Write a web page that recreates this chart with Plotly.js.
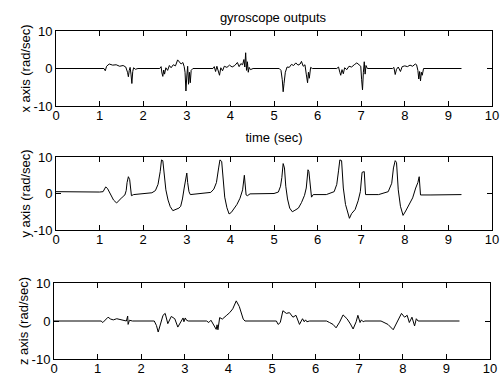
<!DOCTYPE html>
<html>
<head>
<meta charset="utf-8">
<script src="https://cdn.plot.ly/plotly-3.0.1.min.js"></script>
<style>
  html, body { margin: 0; padding: 0; background: #fff; }
  #chart { width: 500px; height: 376px; }
</style>
</head>
<body>
<div id="chart"></div>
<script>
// Angular rate about the x axis (rad/sec) against time (sec)
const xTime = [0, 1.10, 1.13, 1.16, 1.22, 1.30, 1.38, 1.46, 1.54, 1.60, 1.64, 1.66, 1.68, 1.70, 1.72, 1.74, 1.76, 1.78, 1.82, 1.88,
  2.38, 2.41, 2.43, 2.45, 2.47, 2.49, 2.52, 2.56, 2.60, 2.64, 2.69, 2.74, 2.79, 2.83, 2.87, 2.91, 2.94, 2.96, 2.98, 3.00, 3.02, 3.04, 3.06, 3.08, 3.10, 3.14,
  3.60, 3.63, 3.66, 3.69, 3.72, 3.75, 3.78, 3.82, 3.86, 3.92, 3.98, 4.04, 4.10, 4.16, 4.20, 4.24, 4.28, 4.31, 4.33, 4.35, 4.37, 4.39, 4.41, 4.43, 4.46, 4.52,
  5.12, 5.16, 5.19, 5.21, 5.23, 5.26, 5.30, 5.35, 5.40, 5.45, 5.50, 5.55, 5.60, 5.63, 5.67, 5.71, 5.74, 5.77, 5.79, 5.81, 5.84, 5.88,
  6.44, 6.48, 6.51, 6.53, 6.56, 6.59, 6.62, 6.67, 6.72, 6.78, 6.84, 6.90, 6.95, 6.99, 7.01, 7.03, 7.05, 7.07, 7.09, 7.11, 7.14,
  7.72, 7.75, 7.78, 7.81, 7.85, 7.90, 7.94, 8.00, 8.06, 8.12, 8.18, 8.24, 8.27, 8.30, 8.32, 8.34, 8.36, 8.38, 8.40, 8.43, 9.30];
const xRate = [0, 0, -0.6, 0.6, 1.2, 0.9, 1.0, 0.6, 0.8, 0.4, -1.0, -2.2, -0.5, 0.3, -1.5, -4.0, -0.8, 0.2, -0.2, 0,
  0, 0.5, -1.2, -2.1, -0.4, -1.5, 0.2, -0.5, 0.8, 0.2, 1.0, 0.7, 2.3, 1.8, 1.2, 1.6, 0.5, -1.0, -6.0, -2.0, 0.6, -4.2, -1.0, -3.8, -0.5, 0,
  0, 0.5, -0.8, 0.6, -0.4, -1.8, 0.2, -0.6, 0.6, 0.3, 0.9, 0.4, 0.8, 1.6, 0.5, 1.3, 1.0, 2.4, 0.4, 4.2, -0.5, 1.8, -1.0, 0.3, -0.3, 0,
  0, -0.5, -3.0, -6.2, -4.0, -1.0, 0.4, 0.3, 1.1, 0.8, 1.5, 0.9, 1.2, 1.9, 0.6, 1.0, -1.5, -3.8, -1.0, -2.6, 0.3, 0,
  0, 0.4, -1.0, -1.8, -0.3, -1.4, 0.2, -0.3, 0.6, 0.4, 1.0, 1.5, 1.0, 0.6, -3.0, -5.7, -1.0, 1.8, -1.5, 0.8, 0,
  0, 0.3, -1.6, -0.2, 0.4, -0.8, 0.5, 0.7, 0.5, 0.9, 0.6, 1.2, 1.0, -0.5, -2.8, -0.8, -3.3, -1.0, -1.8, 0, 0];

// Angular rate about the y axis (rad/sec)
const yTime = [0, 0.5, 1.0, 1.08, 1.14, 1.18, 1.25, 1.32, 1.39, 1.45, 1.52, 1.58, 1.61, 1.63, 1.66, 1.69, 1.71, 1.73, 1.78, 2.0,
  2.20, 2.28, 2.34, 2.39, 2.42, 2.45, 2.48, 2.52, 2.57, 2.62, 2.68, 2.75, 2.82, 2.86, 2.90, 2.94, 2.98, 3.00, 3.02, 3.05, 3.08, 3.30,
  3.55, 3.62, 3.68, 3.73, 3.76, 3.80, 3.83, 3.87, 3.92, 3.97, 4.02, 4.08, 4.15, 4.22, 4.28, 4.32, 4.34, 4.36, 4.39, 4.45,
  5.0, 5.10, 5.15, 5.18, 5.21, 5.24, 5.27, 5.31, 5.36, 5.42, 5.48, 5.56, 5.63, 5.70, 5.74, 5.78, 5.80, 5.83, 5.86, 5.90,
  6.20, 6.38, 6.44, 6.48, 6.51, 6.55, 6.59, 6.64, 6.69, 6.73, 6.78, 6.86, 6.93, 6.98, 7.02, 7.07, 7.10,
  7.40, 7.62, 7.70, 7.74, 7.78, 7.81, 7.85, 7.90, 7.96, 8.02, 8.10, 8.18, 8.25, 8.30, 8.33, 8.36, 8.60, 9.30];
const yRate = [0.5, 0.4, 0.4, 0.5, 1.8, 1.4, -0.3, -1.8, -2.6, -1.8, -1.0, -0.4, 0.8, 3.0, 4.6, 3.8, 1.0, -0.6, -0.3, -0.1,
  0.2, 0.8, 2.5, 6.0, 9.2, 9.0, 5.0, 1.0, -1.8, -3.6, -4.7, -4.3, -4.0, -3.5, -1.5, 1.5, 4.5, 5.6, 3.0, 0.5, -0.3, 0,
  0.3, 1.2, 3.0, 7.0, 9.2, 8.8, 3.5, -1.0, -3.9, -5.6, -5.2, -4.3, -3.0, -1.3, 1.0, 5.0, 3.0, -0.4, -0.6, -0.1,
  0, 0.4, 2.0, 4.4, 8.2, 7.0, 2.0, -1.5, -4.0, -5.0, -4.6, -4.0, -2.5, -0.5, 1.5, 6.5, 6.0, 1.5, -1.0, -0.3,
  -0.3, 0.5, 2.5, 6.2, 9.2, 9.0, 1.5, -3.0, -5.5, -6.8, -5.5, -4.4, -2.0, 0.5, 5.8, 6.0, -0.3,
  -0.3, 0.5, 2.8, 7.0, 9.0, 8.5, 1.0, -3.5, -6.0, -4.8, -3.2, -1.2, 1.5, 3.0, 4.6, -0.4, -0.4, -0.3];

// Angular rate about the z axis (rad/sec)
const zTime = [0, 1.08, 1.12, 1.18, 1.24, 1.30, 1.36, 1.44, 1.55, 1.66, 1.69, 1.70, 1.73, 1.80,
  2.30, 2.35, 2.39, 2.42, 2.46, 2.50, 2.55, 2.61, 2.69, 2.77, 2.84, 2.90, 2.93, 2.96, 2.98, 3.01, 3.04, 3.08,
  3.50, 3.55, 3.60, 3.68, 3.72, 3.74, 3.76, 3.80, 3.86, 3.95, 4.03, 4.10, 4.18, 4.25, 4.31, 4.34, 4.38,
  5.10, 5.14, 5.19, 5.25, 5.33, 5.40, 5.48, 5.55, 5.63, 5.70, 5.74, 5.77, 5.80, 5.86,
  6.25, 6.32, 6.40, 6.47, 6.55, 6.63, 6.72, 6.80, 6.86, 6.93, 6.97, 7.02, 7.05, 7.09, 7.13,
  7.50, 7.58, 7.66, 7.78, 7.86, 7.97, 8.04, 8.10, 8.15, 8.21, 8.27, 8.31, 8.35, 9.30];
const zRate = [0, 0, -0.4, 0.3, 1.0, 0.5, 0.3, 0.6, 0.3, 0, 1.3, -0.9, 0.2, 0,
  0, -1.2, -2.9, -1.6, 0.3, 1.5, 2.0, -0.7, 1.2, 0.6, -1.6, -0.3, 0.2, 0.8, -0.2, 0.8, 0.2, 0,
  0, -0.4, 0.2, -1.2, -2.2, -1.0, -2.3, 0.9, 0.5, 1.4, 2.2, 3.2, 5.3, 3.8, 1.2, 0.5, 0,
  0, -0.9, -0.4, 2.7, 2.0, 2.2, 1.0, 1.5, -0.9, 0.6, -0.2, 0.3, -0.2, 0,
  0, -0.4, -0.9, -1.8, -0.3, 1.6, 0.6, -0.8, -2.1, -0.2, 1.5, -0.4, 0.3, -0.2, 0,
  0, -0.4, -0.9, -2.3, -0.4, 2.0, 1.0, 1.5, -0.4, 1.0, -1.3, 0.6, 0, 0];

// Axis ticks and labels
const timeTicks = [0, 1, 2, 3, 4, 5, 6, 7, 8, 9, 10];
const timeTickText = ['0', '1', '2', '3', '4', '5', '6', '7', '8', '9', '10'];
const rateTicks = [-10, 0, 10];
const rateTickText = ['-10', '0', '10'];
const panelTitles = ['x axis (rad/sec)', 'y axis (rad/sec)', 'z axis (rad/sec)'];

const FONT = 'Liberation Sans, Arial, Helvetica, sans-serif';

function timeAxis(domain, anchor) {
  return {
    domain: domain, anchor: anchor, range: [0, 10],
    tickmode: 'array', tickvals: timeTicks, ticktext: timeTickText,
    ticks: 'inside', ticklen: 5, tickwidth: 1, tickcolor: '#000',
    ticklabelstandoff: -3,
    showline: true, linecolor: '#000', linewidth: 1, mirror: 'ticks',
    showgrid: false, zeroline: false, fixedrange: true,
    tickfont: { family: FONT, size: 13, color: '#000' }
  };
}

function rateAxis(domain, anchor, title) {
  return {
    domain: domain, anchor: anchor, range: [-10, 10],
    tickmode: 'array', tickvals: rateTicks, ticktext: rateTickText,
    ticks: 'inside', ticklen: 5, tickwidth: 1, tickcolor: '#000',
    showline: true, linecolor: '#000', linewidth: 1, mirror: 'ticks',
    showgrid: false, zeroline: false, fixedrange: true,
    tickfont: { family: FONT, size: 13, color: '#000' },
    title: { text: title, standoff: 0, font: { family: FONT, size: 13, color: '#000' } }
  };
}

const lineStyle = { color: '#000', width: 1 };

const traces = [
  { x: xTime, y: xRate, xaxis: 'x', yaxis: 'y', type: 'scatter', mode: 'lines', line: lineStyle, hoverinfo: 'skip' },
  { x: yTime, y: yRate, xaxis: 'x2', yaxis: 'y2', type: 'scatter', mode: 'lines', line: lineStyle, hoverinfo: 'skip' },
  { x: zTime, y: zRate, xaxis: 'x3', yaxis: 'y3', type: 'scatter', mode: 'lines', line: lineStyle, hoverinfo: 'skip' }
];

const xa1 = timeAxis([2 / 438, 1], 'y');
xa1.title = { text: 'time (sec)', standoff: 11, font: { family: FONT, size: 13, color: '#000' } };

const layout = {
  width: 500, height: 376,
  margin: { l: 54, r: 8, t: 31, b: 17 },
  paper_bgcolor: '#fff', plot_bgcolor: '#fff',
  showlegend: false,
  font: { family: FONT, size: 13, color: '#000' },
  title: {
    text: 'gyroscope outputs',
    xref: 'paper', x: 0.5, xanchor: 'center',
    yref: 'container', y: 1 - 17 / 376, yanchor: 'middle',
    font: { family: FONT, size: 13, color: '#000' }
  },
  xaxis: xa1,
  yaxis: rateAxis([253 / 328, 1], 'x', panelTitles[0]),
  xaxis2: timeAxis([2 / 438, 1], 'y2'),
  yaxis2: rateAxis([129 / 328, 202 / 328], 'x2', panelTitles[1]),
  xaxis3: timeAxis([0, 436 / 438], 'y3'),
  yaxis3: rateAxis([0, 76 / 328], 'x3', panelTitles[2])
};

Plotly.newPlot('chart', traces, layout, { displayModeBar: false, staticPlot: true });
</script>
</body>
</html>
